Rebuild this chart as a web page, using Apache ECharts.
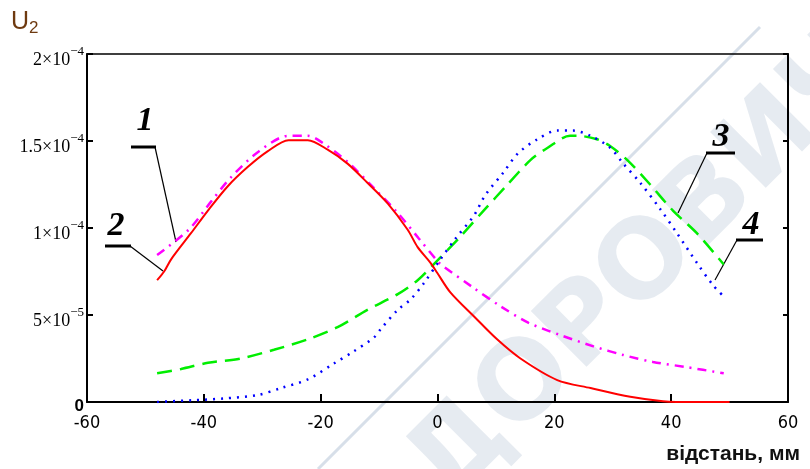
<!DOCTYPE html>
<html>
<head>
<meta charset="utf-8">
<script src="https://cdn.jsdelivr.net/npm/echarts@6/dist/echarts.min.js"></script>
<style>html,body{margin:0;padding:0;background:#fff;}#c{width:810px;height:469px;}</style>
</head>
<body>
<div id="c"></div>
<script>
// ---- data ----
const xTicks = [-60, -40, -20, 0, 20, 40, 60];
const yTickLabels = { 0: ['0', ''], 5e-5: ['5×10', '−5'], 1e-4: ['1×10', '−4'], 1.5e-4: ['1.5×10', '−4'], 2e-4: ['2×10', '−4'] };

const x1 = [-48, -42.6, -38.8, -35.4, -30.6, -25.5, -22.2, -19.7, -15.4, -10.9, -6.9, -3.2, 0, 1, 6, 10.8, 15.6, 21, 26.7, 31.8, 36.9, 42.7, 49];
const y1 = [0.845e-4, 0.99e-4, 1.15e-4, 1.29e-4, 1.44e-4, 1.53e-4, 1.53e-4, 1.49e-4, 1.38e-4, 1.23e-4, 1.09e-4, 0.94e-4, 0.81e-4, 0.78e-4, 0.66e-4, 0.55e-4, 0.455e-4, 0.385e-4, 0.32e-4, 0.27e-4, 0.23e-4, 0.20e-4, 0.165e-4];

const x2 = [-48, -46.8, -45.6, -42.2, -39.3, -35.9, -32.5, -29.1, -25.5, -22.2, -18.8, -15.4, -12, -8.5, -5.1, -3.4, -1.2, 0, 2.2, 6.3, 10.2, 14.2, 20.5, 26.2, 33, 38.6, 44, 50];
const y2 = [0.70e-4, 0.75e-4, 0.82e-4, 0.97e-4, 1.10e-4, 1.24e-4, 1.35e-4, 1.44e-4, 1.505e-4, 1.505e-4, 1.45e-4, 1.37e-4, 1.26e-4, 1.14e-4, 0.99e-4, 0.89e-4, 0.80e-4, 0.74e-4, 0.63e-4, 0.49e-4, 0.36e-4, 0.25e-4, 0.126e-4, 0.08e-4, 0.03e-4, 0.005e-4, 0, 0];

const x3 = [-48, -43.9, -39.3, -33.7, -28, -22.2, -17.1, -12, -6.8, -3.4, -0.7, 3.9, 7.9, 12, 15.9, 18.8, 22.7, 23.9, 27.3, 29.6, 32.5, 36.4, 40.3, 44.4, 49];
const y3 = [0.165e-4, 0.19e-4, 0.225e-4, 0.25e-4, 0.30e-4, 0.36e-4, 0.43e-4, 0.53e-4, 0.62e-4, 0.70e-4, 0.79e-4, 0.95e-4, 1.10e-4, 1.25e-4, 1.39e-4, 1.46e-4, 1.53e-4, 1.53e-4, 1.51e-4, 1.47e-4, 1.39e-4, 1.25e-4, 1.10e-4, 0.97e-4, 0.79e-4];

const x4 = [-48, -42, -36.6, -30.8, -26.8, -22.2, -17.8, -14.4, -10.9, -9.7, -6.8, -4.6, -2.4, 0.5, 3.1, 6.2, 8.2, 11.3, 13.8, 17.1, 20.5, 23.2, 26.2, 29.6, 31.8, 34.7, 38.1, 41, 44.4, 47.2, 49.2];
const y4 = [0, 0.01e-4, 0.02e-4, 0.04e-4, 0.08e-4, 0.13e-4, 0.22e-4, 0.29e-4, 0.37e-4, 0.42e-4, 0.53e-4, 0.59e-4, 0.68e-4, 0.82e-4, 0.94e-4, 1.07e-4, 1.19e-4, 1.32e-4, 1.43e-4, 1.51e-4, 1.56e-4, 1.56e-4, 1.53e-4, 1.46e-4, 1.37e-4, 1.26e-4, 1.11e-4, 0.97e-4, 0.80e-4, 0.67e-4, 0.60e-4];

const zip = (xs, ys) => xs.map((x, i) => [x, ys[i]]);

const chart = echarts.init(document.getElementById('c'), null, { renderer: 'canvas' });

function yLabel(v) {
  for (const k in yTickLabels) {
    if (Math.abs(parseFloat(k) - v) < 1e-9) {
      const t = yTickLabels[k];
      return t[1] ? '{m|' + t[0] + '}{s|' + t[1] + '}' : '{z|' + t[0] + '}';
    }
  }
  return '';
}

const axisLine = { show: true, onZero: false, lineStyle: { color: '#000', width: 2 } };
const serif = 'Liberation Serif, Times New Roman, serif';

const option = {
  backgroundColor: '#fff',
  animation: false,
  grid: { left: 87, right: 22, top: 54, bottom: 67, containLabel: false },
  xAxis: [{
    type: 'value', min: -60, max: 60, interval: 20, position: 'bottom',
    axisLine: axisLine,
    axisTick: { show: true, inside: true, length: 8, lineStyle: { color: '#000', width: 2 } },
    splitLine: { show: false },
    axisLabel: { color: '#000', fontFamily: 'DejaVu Sans Condensed, Liberation Sans, Arial', fontSize: 18, margin: 12,
      formatter: v => xTicks.includes(v) ? String(v) : '' }
  }, {
    type: 'value', min: -60, max: 60, interval: 20, position: 'top',
    axisLine: { show: true, onZero: false, lineStyle: { color: '#000', width: 1.5 } },
    axisTick: { show: false }, axisLabel: { show: false }, splitLine: { show: false }
  }],
  yAxis: [{
    type: 'value', min: 0, max: 2e-4, interval: 5e-5, position: 'left',
    axisLine: axisLine,
    axisTick: { show: true, inside: true, length: 6, lineStyle: { color: '#000', width: 2 } },
    splitLine: { show: false },
    axisLabel: {
      margin: 3, formatter: yLabel,
      rich: {
        m: { fontFamily: serif, fontSize: 18, color: '#000', padding: [12, 0, 0, 0] },
        s: { fontFamily: serif, fontSize: 13, color: '#000', padding: [0, 0, 5, 0] },
        z: { fontFamily: 'Liberation Sans, Arial', fontSize: 17, fontWeight: 'bold', color: '#000', padding: [8, 0, 0, 0] }
      }
    }
  }, {
    type: 'value', min: 0, max: 2e-4, interval: 5e-5, position: 'right',
    axisLine: axisLine,
    axisTick: { show: true, inside: true, length: 5, lineStyle: { color: '#000', width: 2 } },
    axisLabel: { show: false }, splitLine: { show: false }
  }],
  series: [
    { name: '1', type: 'line', data: zip(x1, y1), showSymbol: false, smooth: 0.3, z: 3,
      lineStyle: { color: '#ff00ff', width: 2.5, type: [9, 6, 2, 6] } },
    { name: '2', type: 'line', data: zip(x2, y2), showSymbol: false, smooth: 0.3, z: 4,
      lineStyle: { color: '#ff0000', width: 2 } },
    { name: '3', type: 'line', data: zip(x3, y3), showSymbol: false, smooth: 0.3, z: 3,
      lineStyle: { color: '#00ee00', width: 2.5, type: [15, 8] } },
    { name: '4', type: 'line', data: zip(x4, y4), showSymbol: false, smooth: 0.3, z: 3,
      lineStyle: { color: '#0000ff', width: 2.5, type: [2, 6] } }
  ],
  graphic: [
    // watermark
    { type: 'text', z: -10, silent: true, x: 465, y: 525, rotation: Math.PI / 4,
      style: { text: 'ДОРОВИЧ', font: 'bold 108px DejaVu Sans', fill: 'rgba(205,215,228,0.5)', textVerticalAlign: 'bottom' } },
    { type: 'line', z: -10, silent: true, shape: { x1: 318, y1: 469, x2: 760, y2: 27 },
      style: { stroke: 'rgba(205,215,228,0.8)', lineWidth: 3 } },
    // axis titles
    { type: 'text', x: 11, y: 8, style: { text: '{u|U}{d|2}', rich: {
        u: { font: '25px Liberation Sans', fill: '#6e3a10' },
        d: { font: '17px Liberation Sans', fill: '#6e3a10', padding: [12, 0, 0, 0] } } } },
    { type: 'text', x: 800, y: 444, style: { text: 'відстань, мм', font: 'bold 21px Liberation Sans', fill: '#111', textAlign: 'right' } },
    // curve annotations
    { type: 'text', x: 145, y: 121, style: { text: '1', font: 'italic bold 34px Liberation Serif', fill: '#000', textAlign: 'center', textVerticalAlign: 'middle' } },
    { type: 'line', shape: { x1: 131, y1: 147, x2: 156, y2: 147 }, style: { stroke: '#000', lineWidth: 3 } },
    { type: 'line', shape: { x1: 155, y1: 147, x2: 176, y2: 242 }, style: { stroke: '#000', lineWidth: 1.2 } },
    { type: 'text', x: 116, y: 226, style: { text: '2', font: 'italic bold 34px Liberation Serif', fill: '#000', textAlign: 'center', textVerticalAlign: 'middle' } },
    { type: 'line', shape: { x1: 105, y1: 246, x2: 131, y2: 246 }, style: { stroke: '#000', lineWidth: 3 } },
    { type: 'line', shape: { x1: 130, y1: 246, x2: 163, y2: 271 }, style: { stroke: '#000', lineWidth: 1.2 } },
    { type: 'text', x: 721, y: 137, style: { text: '3', font: 'italic bold 34px Liberation Serif', fill: '#000', textAlign: 'center', textVerticalAlign: 'middle' } },
    { type: 'line', shape: { x1: 706, y1: 153, x2: 735, y2: 153 }, style: { stroke: '#000', lineWidth: 3 } },
    { type: 'line', shape: { x1: 707, y1: 153, x2: 678, y2: 213 }, style: { stroke: '#000', lineWidth: 1.2 } },
    { type: 'text', x: 751, y: 225, style: { text: '4', font: 'italic bold 34px Liberation Serif', fill: '#000', textAlign: 'center', textVerticalAlign: 'middle' } },
    { type: 'line', shape: { x1: 736, y1: 240, x2: 763, y2: 240 }, style: { stroke: '#000', lineWidth: 3 } },
    { type: 'line', shape: { x1: 737, y1: 240, x2: 715, y2: 280 }, style: { stroke: '#000', lineWidth: 1.2 } }
  ]
};
chart.setOption(option);
</script>
</body>
</html>
